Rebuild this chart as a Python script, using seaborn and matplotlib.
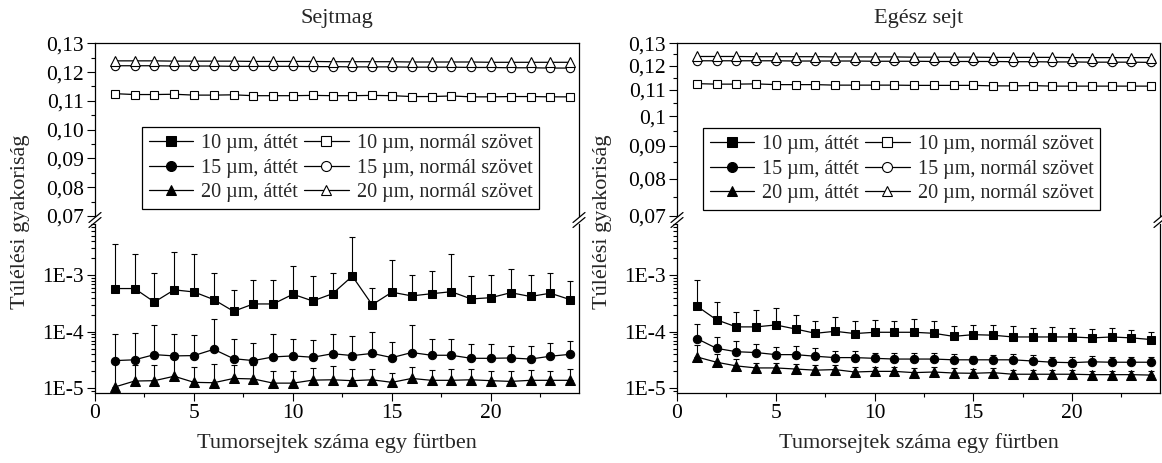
import numpy as np
import seaborn as sns
import matplotlib.pyplot as plt
from matplotlib.lines import Line2D
from matplotlib.ticker import (FixedLocator, FuncFormatter, LogLocator,
                               NullFormatter, MultipleLocator)

# cluster size (number of tumour cells in a cluster)
cluster = list(range(1, 25))

# --- Sejtmag (nucleus) ---
att10_nuc = [5.8e-4, 5.8e-4, 3.35e-4, 5.5e-4, 5.05e-4, 3.7e-4, 2.3e-4, 3.1e-4, 3.1e-4, 4.6e-4, 3.5e-4, 4.7e-4,
             9.6e-4, 3.0e-4, 5.0e-4, 4.3e-4, 4.7e-4, 5.1e-4, 3.8e-4, 4.0e-4, 4.9e-4, 4.2e-4, 4.8e-4, 3.7e-4]
att10_nuc_hi = [3.5e-3, 2.4e-3, 1.07e-3, 2.6e-3, 2.4e-3, 1.1e-3, 5.5e-4, 8.3e-4, 8.1e-4, 1.43e-3, 9.5e-4, 1.1e-3,
                4.8e-3, 5.9e-4, 1.83e-3, 9.9e-4, 1.19e-3, 2.4e-3, 9.5e-4, 1.0e-3, 1.3e-3, 9.9e-4, 1.1e-3, 7.9e-4]
att15_nuc = [3.1e-5, 3.2e-5, 3.95e-5, 3.75e-5, 3.8e-5, 4.9e-5, 3.35e-5, 3.1e-5, 3.6e-5, 3.75e-5, 3.55e-5, 4.1e-5,
             3.8e-5, 4.15e-5, 3.5e-5, 4.3e-5, 3.85e-5, 3.85e-5, 3.4e-5, 3.4e-5, 3.45e-5, 3.3e-5, 3.7e-5, 4.0e-5]
att15_nuc_hi = [9.0e-5, 9.5e-5, 1.3e-4, 9.2e-5, 8.6e-5, 1.66e-4, 7.6e-5, 6.45e-5, 9.0e-5, 7.6e-5, 7.2e-5, 9.0e-5,
                8.5e-5, 9.9e-5, 6.7e-5, 1.3e-4, 7.4e-5, 7.4e-5, 6.0e-5, 6.0e-5, 5.5e-5, 5.5e-5, 6.4e-5, 6.9e-5]
att20_nuc = [1.06e-5, 1.35e-5, 1.37e-5, 1.64e-5, 1.28e-5, 1.26e-5, 1.5e-5, 1.47e-5, 1.24e-5, 1.24e-5, 1.4e-5, 1.42e-5,
             1.37e-5, 1.42e-5, 1.28e-5, 1.5e-5, 1.39e-5, 1.39e-5, 1.42e-5, 1.37e-5, 1.33e-5, 1.39e-5, 1.39e-5, 1.39e-5]
att20_nuc_hi = [3.0e-5, 2.6e-5, 2.55e-5, 3.5e-5, 2.4e-5, 2.7e-5, 2.55e-5, 2.6e-5, 2.06e-5, 2.0e-5, 2.3e-5, 2.45e-5,
                2.2e-5, 2.2e-5, 1.9e-5, 2.4e-5, 2.1e-5, 2.2e-5, 2.2e-5, 2.0e-5, 2.05e-5, 2.1e-5, 2.0e-5, 2.2e-5]
nor10_nuc = [0.1125, 0.1122, 0.1122, 0.1123, 0.1120, 0.1120, 0.1121, 0.1118, 0.1118, 0.1118, 0.1119, 0.1118,
             0.1118, 0.1119, 0.1118, 0.1115, 0.1115, 0.1117, 0.1114, 0.1114, 0.1115, 0.1115, 0.1114, 0.1114]
nor15_nuc = [0.1222, 0.1222, 0.1222, 0.1221, 0.1221, 0.1221, 0.1220, 0.1220, 0.1220, 0.1220, 0.1219, 0.1219,
             0.1218, 0.1218, 0.1218, 0.1217, 0.1217, 0.1217, 0.1216, 0.1216, 0.1215, 0.1215, 0.1214, 0.1214]
nor20_nuc = [0.1239, 0.1239, 0.1239, 0.1238, 0.1238, 0.1238, 0.1238, 0.1237, 0.1237, 0.1237, 0.1237, 0.1236,
             0.1236, 0.1236, 0.1236, 0.1235, 0.1235, 0.1235, 0.1235, 0.1234, 0.1234, 0.1234, 0.1234, 0.1234]

# --- Egész sejt (whole cell) ---
att10_cell = [2.85e-4, 1.63e-4, 1.22e-4, 1.22e-4, 1.32e-4, 1.12e-4, 9.4e-5, 1.02e-4, 9.3e-5, 9.8e-5, 9.8e-5, 9.8e-5,
              9.4e-5, 8.3e-5, 8.9e-5, 8.7e-5, 8.1e-5, 8.1e-5, 8.1e-5, 8.1e-5, 7.8e-5, 8.1e-5, 7.8e-5, 7.3e-5]
att10_cell_hi = [8.2e-4, 3.4e-4, 2.2e-4, 2.4e-4, 2.6e-4, 2.0e-4, 1.56e-4, 1.8e-4, 1.55e-4, 1.62e-4, 1.58e-4, 1.65e-4,
                 1.58e-4, 1.25e-4, 1.3e-4, 1.3e-4, 1.24e-4, 1.15e-4, 1.2e-4, 1.15e-4, 1.1e-4, 1.15e-4, 1.07e-4, 1.0e-4]
att15_cell = [7.6e-5, 5.1e-5, 4.45e-5, 4.3e-5, 3.95e-5, 3.95e-5, 3.7e-5, 3.5e-5, 3.5e-5, 3.4e-5, 3.3e-5, 3.3e-5,
              3.3e-5, 3.2e-5, 3.2e-5, 3.2e-5, 3.2e-5, 3.05e-5, 2.9e-5, 2.85e-5, 2.95e-5, 2.9e-5, 2.9e-5, 2.9e-5]
att15_cell_hi = [1.35e-4, 8.1e-5, 6.9e-5, 6.1e-5, 5.4e-5, 5.6e-5, 5.1e-5, 4.6e-5, 4.5e-5, 4.3e-5, 4.3e-5, 4.2e-5,
                 4.2e-5, 4.0e-5, 3.8e-5, 3.9e-5, 4.0e-5, 3.85e-5, 3.55e-5, 3.55e-5, 3.7e-5, 3.65e-5, 3.55e-5, 3.55e-5]
att20_cell = [3.6e-5, 2.9e-5, 2.5e-5, 2.3e-5, 2.3e-5, 2.2e-5, 2.1e-5, 2.15e-5, 1.95e-5, 2.0e-5, 2.0e-5, 1.9e-5,
              1.95e-5, 1.87e-5, 1.85e-5, 1.9e-5, 1.78e-5, 1.78e-5, 1.78e-5, 1.78e-5, 1.75e-5, 1.75e-5, 1.75e-5, 1.72e-5]
att20_cell_hi = [5.8e-5, 4.0e-5, 3.3e-5, 2.85e-5, 2.8e-5, 2.7e-5, 2.6e-5, 2.6e-5, 2.4e-5, 2.4e-5, 2.4e-5, 2.3e-5,
                 2.35e-5, 2.25e-5, 2.2e-5, 2.25e-5, 2.1e-5, 2.1e-5, 2.1e-5, 2.1e-5, 2.05e-5, 2.05e-5, 2.05e-5, 2.0e-5]
nor10_cell = [0.1125, 0.1123, 0.1123, 0.1124, 0.1121, 0.1121, 0.1121, 0.1119, 0.1119, 0.1119, 0.1119, 0.1118,
              0.1118, 0.1118, 0.1118, 0.1116, 0.1116, 0.1117, 0.1115, 0.1115, 0.1115, 0.1115, 0.1115, 0.1115]
nor15_cell = [0.1221, 0.1221, 0.1221, 0.1221, 0.1221, 0.1220, 0.1220, 0.1220, 0.1220, 0.1219, 0.1219, 0.1219,
              0.1218, 0.1218, 0.1218, 0.1218, 0.1217, 0.1217, 0.1216, 0.1216, 0.1215, 0.1215, 0.1215, 0.1214]
nor20_cell = [0.1240, 0.1240, 0.1240, 0.1239, 0.1239, 0.1239, 0.1239, 0.1238, 0.1238, 0.1238, 0.1238, 0.1237,
              0.1237, 0.1237, 0.1237, 0.1236, 0.1236, 0.1236, 0.1236, 0.1235, 0.1235, 0.1235, 0.1235, 0.1235]

labels = ["10 µm, áttét", "15 µm, áttét", "20 µm, áttét",
          "10 µm, normál szövet", "15 µm, normál szövet", "20 µm, normál szövet"]
top_ticks = [0.07, 0.08, 0.09, 0.10, 0.11, 0.12, 0.13]
top_ticklabels_log = ["0,07", "0,08", "0,09", "0,1", "0,11", "0,12", "0,13"]

sns.set_theme(style="ticks")
plt.rcParams['font.family'] = ['Liberation Serif', 'DejaVu Serif']
plt.rcParams['axes.edgecolor'] = 'black'
plt.rcParams['axes.linewidth'] = 0.9
plt.rcParams['xtick.color'] = 'black'
plt.rcParams['ytick.color'] = 'black'

W, H = 1162, 463
fig = plt.figure(figsize=(W / 100, H / 100), dpi=100)


def box(x0, x1, ytop, ybot):
    return [x0 / W, 1 - ybot / H, (x1 - x0) / W, (ybot - ytop) / H]


def style_ticks(ax):
    ax.tick_params(which='both', direction='out', width=0.8, labelsize=15.5,
                   colors='black', pad=2.5, right=False, top=False)
    ax.tick_params(which='major', length=5.5)
    ax.tick_params(which='minor', length=2.8)


def draw_break(xp, yp):
    for dy in (-2.5, 2.5):
        fig.add_artist(Line2D([(xp - 6) / W, (xp + 6) / W],
                              [1 - (yp + dy + 5) / H, 1 - (yp + dy - 5) / H],
                              transform=fig.transFigure, color='black', lw=0.9))


def panel(x0, x1, title, att, att_hi, nor, log_top, legend_box):
    ax_t = fig.add_axes(box(x0, x1, 43.3, 216))
    ax_b = fig.add_axes(box(x0, x1, 224, 393.3))
    handles_att, handles_nor = [], []

    ax_b.set_yscale('log')
    for vals, hi, m in zip(att, att_hi, ['s', 'o', '^']):
        vals = np.array(vals)
        ax_b.errorbar(cluster, vals, yerr=[np.zeros_like(vals), np.array(hi) - vals],
                      fmt='none', ecolor='black', elinewidth=0.8, capsize=2.5,
                      capthick=0.8, zorder=1)
        sns.lineplot(x=cluster, y=vals, ax=ax_b, color='black', marker=m,
                     markersize=6 if m != '^' else 6.5, markerfacecolor='black',
                     markeredgecolor='black', linewidth=0.9, zorder=3)
        handles_att.append(ax_b.lines[-1])

    if log_top:
        ax_t.set_yscale('log')
    for vals, m in zip(nor, ['s', 'o', '^']):
        sns.lineplot(x=cluster, y=vals, ax=ax_t, color='black', marker=m,
                     markersize=6 if m != '^' else 6.5, markerfacecolor='white',
                     markeredgecolor='black', markeredgewidth=0.8,
                     linewidth=0.9, zorder=3)
        handles_nor.append(ax_t.lines[-1])

    for ax in (ax_t, ax_b):
        ax.set_xlim(0, 24.45)
        ax.xaxis.set_major_locator(MultipleLocator(5))
        ax.xaxis.set_minor_locator(MultipleLocator(2.5))
        ax.set_xlabel('')
        ax.set_ylabel('')
        style_ticks(ax)

    ax_t.set_ylim(0.07, 0.13)
    ax_t.yaxis.set_major_locator(FixedLocator(top_ticks))
    ax_t.yaxis.set_minor_locator(FixedLocator([0.075, 0.085, 0.095, 0.105, 0.115, 0.125]))
    if log_top:
        ax_t.yaxis.set_major_formatter(FuncFormatter(
            lambda v, p: top_ticklabels_log[int(round(v * 100)) - 7]))
        ax_t.yaxis.set_minor_formatter(NullFormatter())
    else:
        ax_t.yaxis.set_major_formatter(FuncFormatter(lambda v, p: f"{v:.2f}".replace('.', ',')))
    ax_t.spines['bottom'].set_visible(False)
    ax_t.tick_params(which='both', bottom=False, labelbottom=False)

    ax_b.set_ylim(8.2e-6, 8e-3)
    ax_b.yaxis.set_major_locator(LogLocator(base=10, numticks=10))
    ax_b.yaxis.set_minor_locator(LogLocator(base=10, subs=np.arange(2, 10), numticks=10))
    ax_b.yaxis.set_major_formatter(FuncFormatter(lambda v, p: f"1E{int(round(np.log10(v)))}"))
    ax_b.yaxis.set_minor_formatter(NullFormatter())
    ax_b.spines['top'].set_visible(False)

    lx, ly = legend_box
    leg = ax_t.legend(handles_att + handles_nor, labels, ncol=2, loc='upper left',
                      bbox_to_anchor=(lx / W, 1 - ly / H), bbox_transform=fig.transFigure,
                      frameon=True, fancybox=False, edgecolor='black', framealpha=1,
                      fontsize=14.5, handlelength=2.2, handletextpad=0.4,
                      columnspacing=0.3, labelspacing=0.27, borderpad=0.35,
                      borderaxespad=0, markerscale=1.2)
    leg.get_frame().set_linewidth(0.9)
    if ax_b.get_legend() is not None:
        ax_b.get_legend().remove()

    draw_break(x0, 220)
    draw_break(x1, 220)
    cx = (x0 + x1) / 2
    fig.text(cx / W, 1 - 18 / H, title, ha='center', va='center', fontsize=16)
    fig.text(cx / W, 1 - 443 / H, "Tumorsejtek száma egy fürtben",
             ha='center', va='center', fontsize=16)


panel(95, 579, "Sejtmag", [att10_nuc, att15_nuc, att20_nuc],
      [att10_nuc_hi, att15_nuc_hi, att20_nuc_hi], [nor10_nuc, nor15_nuc, nor20_nuc],
      False, (142, 127))
panel(677, 1160, "Egész sejt", [att10_cell, att15_cell, att20_cell],
      [att10_cell_hi, att15_cell_hi, att20_cell_hi], [nor10_cell, nor15_cell, nor20_cell],
      True, (703, 128))

for xp in (21, 603):
    fig.text(xp / W, 1 - 222 / H, "Túlélési gyakoriság", rotation=90,
             ha='center', va='center', fontsize=16)

fig.savefig("out.png", dpi=100)
